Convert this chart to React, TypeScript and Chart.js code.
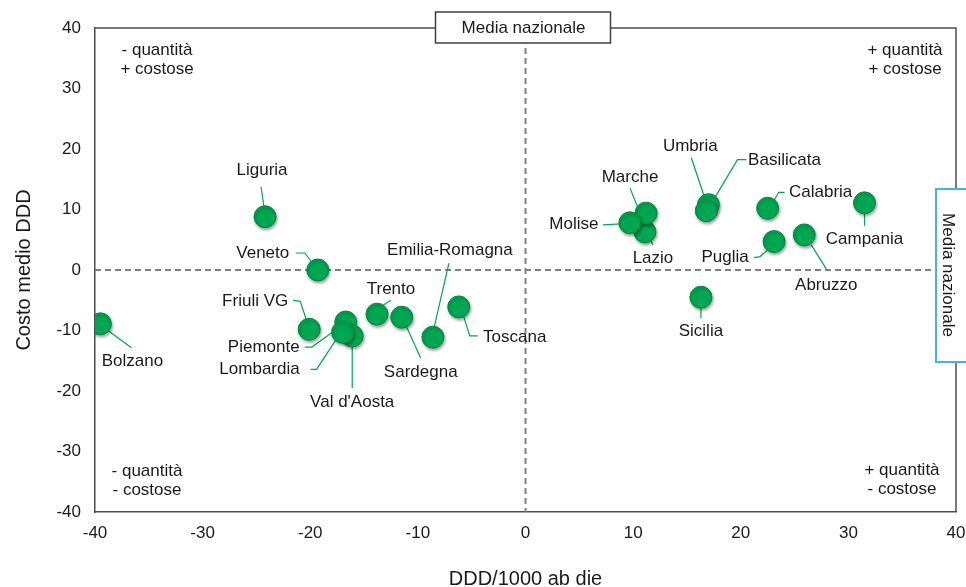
import React, { useEffect, useRef } from "react";
import { Chart, registerables } from "chart.js";
Chart.register(...registerables);

// ---- data ----
const regions = [
  "Bolzano", "Liguria", "Veneto", "Friuli VG", "Piemonte", "Val d'Aosta", "Lombardia",
  "Trento", "Sardegna", "Emilia-Romagna", "Toscana", "Lazio", "Marche", "Molise",
  "Basilicata", "Umbria", "Calabria", "Campania", "Puglia", "Abruzzo", "Sicilia",
];
const dddValues = [
  -39.5, -24.2, -19.3, -20.1, -16.7, -16.1, -17.0,
  -13.8, -11.5, -8.6, -6.2, 11.1, 11.2, 9.7,
  17.0, 16.8, 22.5, 31.5, 23.1, 25.9, 16.3,
];
const costValues = [
  -8.9, 8.8, 0.0, -9.8, -8.6, -10.9, -10.3,
  -7.3, -7.8, -11.1, -6.1, 6.3, 9.4, 7.8,
  10.8, 9.8, 10.2, 11.1, 4.7, 5.8, -4.5,
];
const axisTicks = [-40, -30, -20, -10, 0, 10, 20, 30, 40];
const xTitle = "DDD/1000 ab die";
const yTitle = "Costo medio DDD";
const refLabel = "Media nazionale";
const quadrantTexts = [
  ["- quantità", "+ costose"],
  ["+ quantità", "+ costose"],
  ["- quantità", "- costose"],
  ["+ quantità", "- costose"],
];

// ---- label placement (pixel offsets from each point) ----
const labelOffsets: [number, number][] = [
  [32, 37], [-3, -46], [-55, -17], [-54, -28], [-82, 25], [0, 66], [-83, 37],
  [14, -25], [19, 55], [17, -87], [56, 30], [8, 26], [-16, -36], [-56, 2],
  [76, -44], [-16, -64], [53, -16], [0, 36], [-49, 16], [22, 50], [0, 34],
];
const leaderPaths: [number, number][][] = [
  [[8, 7], [31, 24]],
  [[-4, -30], [-1, -9]],
  [[-22, -17], [-13, -17], [-6, -8]],
  [[-16, -29], [-9, -28], [-3, -10]],
  [[-41, 25], [-34, 25], [-13, 10]],
  [[0, 8], [0, 52]],
  [[-32, 37], [-26, 37], [-7, 8]],
  [[6, -9], [14, -14]],
  [[5, 10], [19, 41]],
  [[16, -74], [1, -9]],
  [[5, 10], [11, 29], [19, 29]],
  [[5, 7], [8, 13]],
  [[-16, -25], [-8, -5]],
  [[-27, 2], [-9, 1]],
  [[38, -45], [29, -45], [7, -8]],
  [[-15, -53], [-2, -14]],
  [[17, -16], [11, -16], [6, -7]],
  [[0, 10], [0, 23]],
  [[-20, 16], [-14, 15], [-6, 8]],
  [[7, 10], [22, 34]],
  [[0, 10], [0, 21]],
];

const FONT = "'Liberation Sans', Arial, sans-serif";
const GREEN = "#00a651";

const overlayPlugin = {
  id: "overlay",
  beforeDatasetsDraw(chart: any) {
    const { ctx, chartArea: a, scales } = chart;
    const x0 = scales.x.getPixelForValue(0);
    const y0 = scales.y.getPixelForValue(0);
    ctx.save();
    // frame top/right
    ctx.strokeStyle = "#4d4d4d";
    ctx.lineWidth = 1.5;
    ctx.beginPath();
    ctx.moveTo(a.left, a.top);
    ctx.lineTo(a.right, a.top);
    ctx.lineTo(a.right, a.bottom);
    ctx.stroke();
    // dashed reference lines
    ctx.strokeStyle = "#7f7f7f";
    ctx.lineWidth = 2;
    ctx.setLineDash([6, 4]);
    ctx.beginPath();
    ctx.moveTo(x0, a.top);
    ctx.lineTo(x0, a.bottom);
    ctx.moveTo(a.left, y0);
    ctx.lineTo(a.right, y0);
    ctx.stroke();
    ctx.setLineDash([]);
    // leader lines
    const meta = chart.getDatasetMeta(0);
    ctx.strokeStyle = GREEN;
    ctx.lineWidth = 1.2;
    meta.data.forEach((pt: any, i: number) => {
      const path = leaderPaths[i];
      ctx.beginPath();
      path.forEach(([dx, dy], k) => {
        if (k === 0) ctx.moveTo(pt.x + dx, pt.y + dy);
        else ctx.lineTo(pt.x + dx, pt.y + dy);
      });
      ctx.stroke();
    });
    ctx.restore();
    // soft shadow for the markers
    ctx.save();
    ctx.shadowColor = "rgba(0,0,0,0.35)";
    ctx.shadowBlur = 3;
    ctx.shadowOffsetX = 1;
    ctx.shadowOffsetY = 2;
  },
  afterDatasetsDraw(chart: any) {
    chart.ctx.restore();
  },
  afterDraw(chart: any) {
    const { ctx, chartArea: a, scales } = chart;
    const x0 = scales.x.getPixelForValue(0);
    const y0 = scales.y.getPixelForValue(0);
    ctx.save();
    ctx.font = `17px ${FONT}`;
    ctx.fillStyle = "#1a1a1a";
    ctx.textAlign = "center";
    ctx.textBaseline = "middle";
    // point labels
    const meta = chart.getDatasetMeta(0);
    meta.data.forEach((pt: any, i: number) => {
      const [dx, dy] = labelOffsets[i];
      ctx.fillText(regions[i], pt.x + dx, pt.y + dy);
    });
    // quadrant texts
    const qPos = [
      [a.left + 62, a.top + 22],
      [a.right - 51, a.top + 22],
      [a.left + 52, a.bottom - 41],
      [a.right - 54, a.bottom - 42],
    ];
    quadrantTexts.forEach((lines, i) => {
      lines.forEach((t, k) => ctx.fillText(t, qPos[i][0], qPos[i][1] + k * 19.5));
    });
    // top reference box
    ctx.fillStyle = "#fff";
    ctx.strokeStyle = "#404040";
    ctx.lineWidth = 1.5;
    ctx.fillRect(x0 - 90, a.top - 16, 175, 31);
    ctx.strokeRect(x0 - 90, a.top - 16, 175, 31);
    ctx.fillStyle = "#1a1a1a";
    ctx.fillText(refLabel, x0 - 2, a.top);
    // right reference box
    ctx.fillStyle = "#fff";
    ctx.strokeStyle = "#45b3e0";
    ctx.lineWidth = 2;
    ctx.fillRect(a.right - 20, y0 - 81, 60, 173);
    ctx.strokeRect(a.right - 20, y0 - 81, 60, 173);
    ctx.translate(a.right - 8, y0 + 5);
    ctx.rotate(Math.PI / 2);
    ctx.fillStyle = "#1a1a1a";
    ctx.fillText(refLabel, 0, 0);
    ctx.restore();
  },
};

export default function App() {
  const ref = useRef<HTMLCanvasElement>(null);
  useEffect(() => {
    const canvas = ref.current!;
    const tickFont = { family: FONT, size: 17 };
    const chart = new Chart(canvas, {
      type: "scatter",
      data: {
        datasets: [
          {
            data: dddValues.map((x, i) => ({ x, y: costValues[i] })),
            backgroundColor: GREEN,
            borderColor: "#00893f",
            borderWidth: 1,
            pointRadius: 11,
            pointHoverRadius: 11,
          },
        ],
      },
      options: {
        animation: false,
        responsive: false,
        maintainAspectRatio: false,
        events: [],
        layout: { padding: { left: 0, right: 0, top: 28, bottom: 0 } },
        plugins: { legend: { display: false }, tooltip: { enabled: false } },
        scales: {
          x: {
            type: "linear",
            min: -40,
            max: 40,
            afterBuildTicks: (s: any) => { s.ticks = axisTicks.map((v) => ({ value: v })); },
            afterFit: (s: any) => { s.height = 75; s.paddingRight = 8; },
            grid: { display: false, drawTicks: false },
            border: { display: true, color: "#4d4d4d", width: 1.5 },
            ticks: { font: tickFont, color: "#1a1a1a", padding: 11, maxRotation: 0 },
            title: {
              display: true,
              text: xTitle,
              font: { family: FONT, size: 20, lineHeight: 0.8 },
              color: "#1a1a1a",
              padding: { top: 0, bottom: 0 },
            },
          },
          y: {
            type: "linear",
            min: -40,
            max: 40,
            afterBuildTicks: (s: any) => { s.ticks = axisTicks.map((v) => ({ value: v })); },
            afterFit: (s: any) => { s.width = 95; },
            grid: { display: false, drawTicks: false },
            border: { display: true, color: "#4d4d4d", width: 1.5 },
            ticks: { font: tickFont, color: "#1a1a1a", padding: 14 },
            title: {
              display: true,
              text: yTitle,
              font: { family: FONT, size: 20, lineHeight: 1 },
              color: "#1a1a1a",
              padding: { top: 14, bottom: 0 },
            },
          },
        },
      },
      plugins: [overlayPlugin],
    });
    return () => chart.destroy();
  }, []);
  return (
    <div style={{ position: "fixed", left: 0, top: 0, width: 966, height: 587, overflow: "hidden", background: "#fff" }}>
      <canvas ref={ref} width={968} height={587} style={{ width: 968, height: 587 }} />
    </div>
  );
}
